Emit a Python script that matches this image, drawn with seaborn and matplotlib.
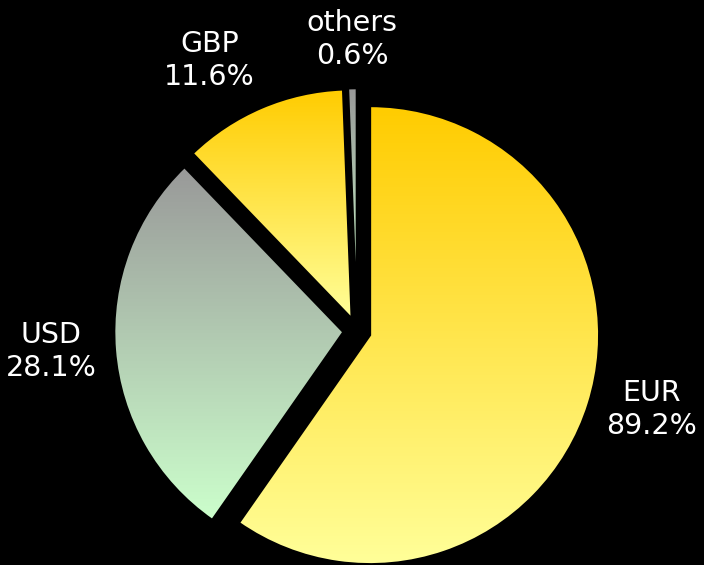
import numpy as np
import matplotlib
matplotlib.use('Agg')
import matplotlib.pyplot as plt
from matplotlib.colors import LinearSegmentedColormap
import seaborn as sns

# slice data (clockwise from 12 o'clock) and the label text shown on the chart
currencies = ['EUR', 'USD', 'GBP', 'others']
shares = [59.7, 28.1, 11.6, 0.6]
shown_pct = ['89.2%', '28.1%', '11.6%', '0.6%']

# gradient for each slice: (bottom colour, top colour)
gold = LinearSegmentedColormap.from_list('gold', ['#FFFF99', '#FFCC00'])
greygreen = LinearSegmentedColormap.from_list('greygreen', ['#CCFFCC', '#999999'])
fills = [gold, greygreen, gold, greygreen]

sns.set_theme(style='dark')
plt.rcParams['font.family'] = ['DejaVu Sans']

fig = plt.figure(figsize=(7.04, 5.65), dpi=100, facecolor='black')
ax = fig.add_axes([0, 0, 1, 1])
ax.set_facecolor('black')

labels = [c + '\n' + p for c, p in zip(currencies, shown_pct)]
wedges, texts = ax.pie(shares, labels=labels, startangle=90, counterclock=False,
                       explode=[0.06] * len(shares),
                       wedgeprops=dict(edgecolor='black', linewidth=1.5),
                       textprops=dict(color='white', fontsize=20.5,
                                      linespacing=1.22))

# vertical gradient inside every wedge
grad = np.linspace(0, 1, 256).reshape(-1, 1)
for w, cm in zip(wedges, fills):
    bb = w.get_path().get_extents()
    im = ax.imshow(grad, cmap=cm, origin='lower', aspect='auto',
                   extent=[bb.x0, bb.x1, bb.y0, bb.y1], zorder=w.get_zorder())
    im.set_clip_path(w)
    w.set_facecolor('none')
    w.set_zorder(w.get_zorder() + 1)

# excel-like label placement: the near side of the text box sits just outside the wedge
for w, t in zip(wedges, texts):
    ang = np.deg2rad((w.theta1 + w.theta2) / 2)
    c, s = np.cos(ang), np.sin(ang)
    t.set_position((w.center[0] + 1.08 * w.r * c, w.center[1] + 1.08 * w.r * s))
    t.set_ha('left' if c > 0.2 else 'right' if c < -0.2 else 'center')
    t.set_va('bottom' if s > 0.5 else 'top' if s < -0.5 else 'center')
    t.set_multialignment('center')

# place pie centre in the figure (pixels -> units of radius)
cx, cy, r = 357, 331, 229
ax.set_xlim(-cx / r, (704 - cx) / r)
ax.set_ylim(-(565 - cy) / r, cy / r)
ax.set_aspect('equal', adjustable='box')
ax.axis('off')

fig.savefig('out.png', dpi=100, facecolor='black')
